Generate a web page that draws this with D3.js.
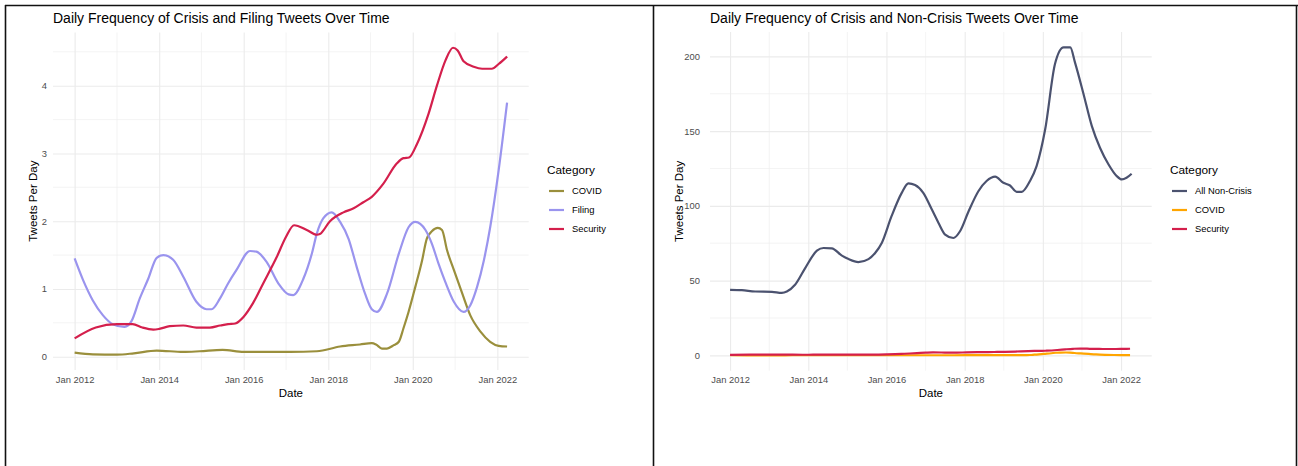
<!DOCTYPE html>
<html>
<head>
<meta charset="utf-8">
<script src="https://cdn.jsdelivr.net/npm/d3@7"></script>
<style>
  html, body { margin: 0; padding: 0; background: #fff; }
  svg { display: block; font-family: "Liberation Sans", Arial, sans-serif; }
</style>
</head>
<body>
<svg id="chart" width="1298" height="466"></svg>
<script>
// ---------------- DATA (decimal years / tweets per day) ----------------
const securityYears  = [2012.0, 2012.5, 2013.0, 2013.37, 2013.6, 2013.86, 2014.0, 2014.25, 2014.57, 2014.88, 2015.2, 2015.44, 2015.63, 2015.8, 2016.0, 2016.22, 2016.46, 2016.78, 2017.0, 2017.19, 2017.49, 2017.73, 2017.8, 2018.04, 2018.36, 2018.6, 2018.83, 2019.03, 2019.3, 2019.62, 2019.78, 2019.91, 2020.1, 2020.37, 2020.57, 2020.77, 2020.95, 2021.06, 2021.2, 2021.44, 2021.64, 2021.87, 2022.03, 2022.23];
const securityValues = [0.27, 0.43, 0.48, 0.48, 0.43, 0.40, 0.41, 0.45, 0.46, 0.43, 0.43, 0.46, 0.48, 0.49, 0.59, 0.79, 1.08, 1.47, 1.77, 1.94, 1.87, 1.80, 1.81, 2.00, 2.13, 2.19, 2.28, 2.36, 2.55, 2.85, 2.93, 2.94, 3.14, 3.58, 4.00, 4.37, 4.56, 4.52, 4.36, 4.28, 4.25, 4.25, 4.32, 4.43];

const filingYears  = [2012.0, 2012.2, 2012.43, 2012.67, 2012.9, 2013.18, 2013.34, 2013.54, 2013.74, 2013.94, 2014.1, 2014.33, 2014.57, 2014.88, 2015.12, 2015.24, 2015.44, 2015.63, 2015.83, 2016.15, 2016.3, 2016.54, 2016.82, 2017.06, 2017.17, 2017.41, 2017.61, 2017.73, 2017.88, 2018.08, 2018.28, 2018.48, 2018.67, 2018.87, 2019.03, 2019.15, 2019.39, 2019.67, 2019.9, 2020.06, 2020.3, 2020.45, 2020.61, 2020.77, 2020.97, 2021.2, 2021.36, 2021.52, 2021.68, 2021.83, 2022.03, 2022.23];
const filingValues = [1.45, 1.13, 0.83, 0.61, 0.48, 0.44, 0.52, 0.86, 1.15, 1.46, 1.50, 1.43, 1.18, 0.81, 0.70, 0.70, 0.86, 1.08, 1.28, 1.56, 1.55, 1.40, 1.08, 0.92, 0.91, 1.15, 1.52, 1.82, 2.04, 2.13, 1.99, 1.74, 1.33, 0.93, 0.70, 0.66, 0.93, 1.52, 1.91, 1.99, 1.87, 1.67, 1.37, 1.10, 0.81, 0.66, 0.76, 1.03, 1.42, 1.91, 2.75, 3.75];

const covidYears  = [2012.0, 2012.43, 2013.0, 2013.4, 2013.94, 2014.57, 2014.96, 2015.5, 2016.0, 2016.54, 2017.1, 2017.73, 2018.28, 2018.75, 2019.03, 2019.13, 2019.27, 2019.39, 2019.55, 2019.67, 2019.78, 2019.9, 2020.06, 2020.22, 2020.33, 2020.45, 2020.59, 2020.69, 2020.81, 2020.97, 2021.17, 2021.36, 2021.6, 2021.83, 2022.03, 2022.23];
const covidValues = [0.06, 0.035, 0.03, 0.05, 0.09, 0.07, 0.08, 0.10, 0.07, 0.07, 0.07, 0.08, 0.15, 0.18, 0.20, 0.18, 0.12, 0.12, 0.17, 0.22, 0.42, 0.66, 1.03, 1.42, 1.74, 1.85, 1.90, 1.87, 1.57, 1.28, 0.93, 0.61, 0.37, 0.22, 0.16, 0.15];

const nonCrisisYears  = [2012.0, 2012.3, 2012.64, 2013.07, 2013.32, 2013.45, 2013.66, 2013.92, 2014.22, 2014.39, 2014.6, 2014.86, 2015.03, 2015.28, 2015.54, 2015.71, 2015.88, 2016.13, 2016.39, 2016.56, 2016.73, 2016.94, 2017.16, 2017.33, 2017.5, 2017.71, 2017.88, 2018.1, 2018.35, 2018.56, 2018.78, 2018.99, 2019.16, 2019.33, 2019.46, 2019.67, 2019.84, 2020.06, 2020.31, 2020.53, 2020.7, 2020.82, 2021.04, 2021.25, 2021.46, 2021.68, 2021.89, 2022.02, 2022.14, 2022.27];
const nonCrisisValues = [43.8, 43.6, 42.7, 42.5, 41.8, 42.7, 47.2, 58.4, 70.0, 71.8, 71.6, 66.7, 64.4, 62.4, 64.4, 68.5, 75.2, 93.1, 108.7, 115.0, 113.9, 108.7, 97.5, 88.6, 80.8, 78.5, 83.0, 96.4, 109.8, 116.6, 119.5, 115.4, 113.6, 109.4, 109.4, 116.6, 126.6, 151.2, 194.9, 206.0, 206.0, 196.0, 174.7, 153.5, 138.9, 127.7, 119.9, 117.7, 118.8, 121.5];

const tickYears = [2012, 2014, 2016, 2018, 2020, 2022];
const leftYTicks = [0, 1, 2, 3, 4];
const rightYTicks = [0, 50, 100, 150, 200];

const leftTitle = "Daily Frequency of Crisis and Filing Tweets Over Time";
const rightTitle = "Daily Frequency of Crisis and Non-Crisis Tweets Over Time";
const leftCategories = ["COVID", "Filing", "Security"];
const rightCategories = ["All Non-Crisis", "COVID", "Security"];

// ---------------- helpers ----------------
function yearToDate(y) {
  const yr = Math.floor(y);
  const start = Date.UTC(yr, 0, 1), end = Date.UTC(yr + 1, 0, 1);
  return new Date(start + (y - yr) * (end - start));
}
function series(years, values) {
  return years.map((y, i) => ({ date: yearToDate(y), value: values[i] }));
}

const seriesData = {
  "COVID": series(covidYears, covidValues),
  "Filing": series(filingYears, filingValues),
  "Security": series(securityYears, securityValues),
  "All Non-Crisis": series(nonCrisisYears, nonCrisisValues)
};

const svg = d3.select("#chart");

// frame borders
const frame = svg.append("g").attr("stroke", "#111").attr("stroke-width", 1.6).attr("fill", "none");
frame.append("line").attr("x1", 5).attr("x2", 1298).attr("y1", 5.5).attr("y2", 5.5);
frame.append("line").attr("x1", 5.5).attr("x2", 5.5).attr("y1", 5).attr("y2", 466);
frame.append("line").attr("x1", 653.5).attr("x2", 653.5).attr("y1", 5).attr("y2", 466);
frame.append("line").attr("x1", 1296.5).attr("x2", 1296.5).attr("y1", 5).attr("y2", 466);

function drawPanel(cfg) {
  const g = svg.append("g");
  const all = cfg.categories.flatMap(c => cfg.data[c]);
  const xExt = d3.extent(all, d => d.date.getTime());
  const yExt = d3.extent(all, d => d.value);
  const xPad = (xExt[1] - xExt[0]) * 0.05;
  const yPad = (yExt[1] - yExt[0]) * 0.05;

  const x = d3.scaleUtc()
    .domain([new Date(xExt[0] - xPad), new Date(xExt[1] + xPad)])
    .range([cfg.left, cfg.right]);
  const y = d3.scaleLinear()
    .domain([yExt[0] - yPad, yExt[1] + yPad])
    .range([cfg.bottom, cfg.top]);

  // minor gridlines
  const yStep = cfg.yTicks[1] - cfg.yTicks[0];
  const yMinor = [];
  for (let v = cfg.yTicks[0] - yStep / 2; v <= y.domain()[1]; v += yStep) {
    if (v >= y.domain()[0]) yMinor.push(v);
  }
  const xMinor = [];
  for (let yr = cfg.xTicks[0] - 1; yr <= cfg.xTicks[cfg.xTicks.length - 1] + 1; yr += 2) {
    const d = yearToDate(yr);
    if (d >= x.domain()[0] && d <= x.domain()[1]) xMinor.push(d);
  }
  g.append("g").selectAll("line").data(yMinor).join("line")
    .attr("x1", cfg.left).attr("x2", cfg.right)
    .attr("y1", d => y(d)).attr("y2", d => y(d))
    .attr("stroke", "#efefef").attr("stroke-width", 0.7);
  g.append("g").selectAll("line").data(xMinor).join("line")
    .attr("x1", d => x(d)).attr("x2", d => x(d))
    .attr("y1", cfg.top).attr("y2", cfg.bottom)
    .attr("stroke", "#efefef").attr("stroke-width", 0.7);

  // major gridlines via axes
  const xTickDates = cfg.xTicks.map(yr => yearToDate(yr));
  const xAxis = d3.axisBottom(x).tickValues(xTickDates)
    .tickFormat(d3.utcFormat("Jan %Y"))
    .tickSize(-(cfg.bottom - cfg.top)).tickPadding(6);
  const xg = g.append("g").attr("transform", `translate(0,${cfg.bottom})`).call(xAxis);
  xg.select(".domain").remove();
  xg.selectAll(".tick line").attr("stroke", "#ebebeb").attr("stroke-width", 1.1);
  xg.selectAll(".tick text").attr("fill", "#4d4d4d").attr("font-size", "9.4px")
    .attr("font-family", "Liberation Sans, Arial, sans-serif").attr("dy", "0.71em");

  const yAxis = d3.axisLeft(y).tickValues(cfg.yTicks).tickFormat(d3.format("d"))
    .tickSize(-(cfg.right - cfg.left)).tickPadding(cfg.yPad);
  const yg = g.append("g").attr("transform", `translate(${cfg.left},0)`).call(yAxis);
  yg.select(".domain").remove();
  yg.selectAll(".tick line").attr("stroke", "#ebebeb").attr("stroke-width", 1.1);
  yg.selectAll(".tick text").attr("fill", "#4d4d4d").attr("font-size", "9.4px")
    .attr("font-family", "Liberation Sans, Arial, sans-serif");

  // lines
  const line = d3.line().x(d => x(d.date)).y(d => y(d.value)).curve(d3.curveMonotoneX);
  cfg.categories.forEach(c => {
    g.append("path").datum(cfg.data[c])
      .attr("fill", "none")
      .attr("stroke", cfg.colors[c])
      .attr("stroke-width", 2.2)
      .attr("stroke-linejoin", "round")
      .attr("stroke-linecap", "butt")
      .attr("d", line);
  });

  // titles
  g.append("text").attr("x", cfg.left).attr("y", 23)
    .attr("font-size", "14px").attr("fill", "#000").text(cfg.title);
  g.append("text").attr("x", (cfg.left + cfg.right) / 2).attr("y", 397)
    .attr("text-anchor", "middle").attr("font-size", "11.5px").attr("fill", "#000").text("Date");
  g.append("text")
    .attr("transform", `translate(${cfg.yTitleX},${(cfg.top + cfg.bottom) / 2}) rotate(-90)`)
    .attr("text-anchor", "middle").attr("font-size", "11.5px").attr("fill", "#000").text("Tweets Per Day");

  // legend
  const lg = g.append("g").attr("transform", `translate(${cfg.legendX},0)`);
  lg.append("text").attr("x", 0).attr("y", 174).attr("font-size", "11.8px").attr("fill", "#000").text("Category");
  cfg.categories.forEach((c, i) => {
    const cy = 191 + i * 19;
    lg.append("line").attr("x1", 2).attr("x2", 17).attr("y1", cy).attr("y2", cy)
      .attr("stroke", cfg.colors[c]).attr("stroke-width", 2.2);
    lg.append("text").attr("x", 25).attr("y", cy + 3.3).attr("font-size", "9.4px").attr("fill", "#000").text(c);
  });
}

drawPanel({
  title: leftTitle,
  categories: leftCategories,
  data: seriesData,
  colors: { "COVID": "#9a8f3c", "Filing": "#9a94ee", "Security": "#d41f4c" },
  left: 53, right: 528.7, top: 32.4, bottom: 370,
  xTicks: tickYears, yTicks: leftYTicks, yPad: 6,
  yTitleX: 37, legendX: 547
});

drawPanel({
  title: rightTitle,
  categories: rightCategories,
  data: seriesData,
  colors: { "All Non-Crisis": "#4b526f", "COVID": "#ffa500", "Security": "#d41f4c" },
  left: 710, right: 1151.7, top: 32, bottom: 370.7,
  xTicks: tickYears, yTicks: rightYTicks, yPad: 10,
  yTitleX: 683, legendX: 1170
});
</script>
</body>
</html>
